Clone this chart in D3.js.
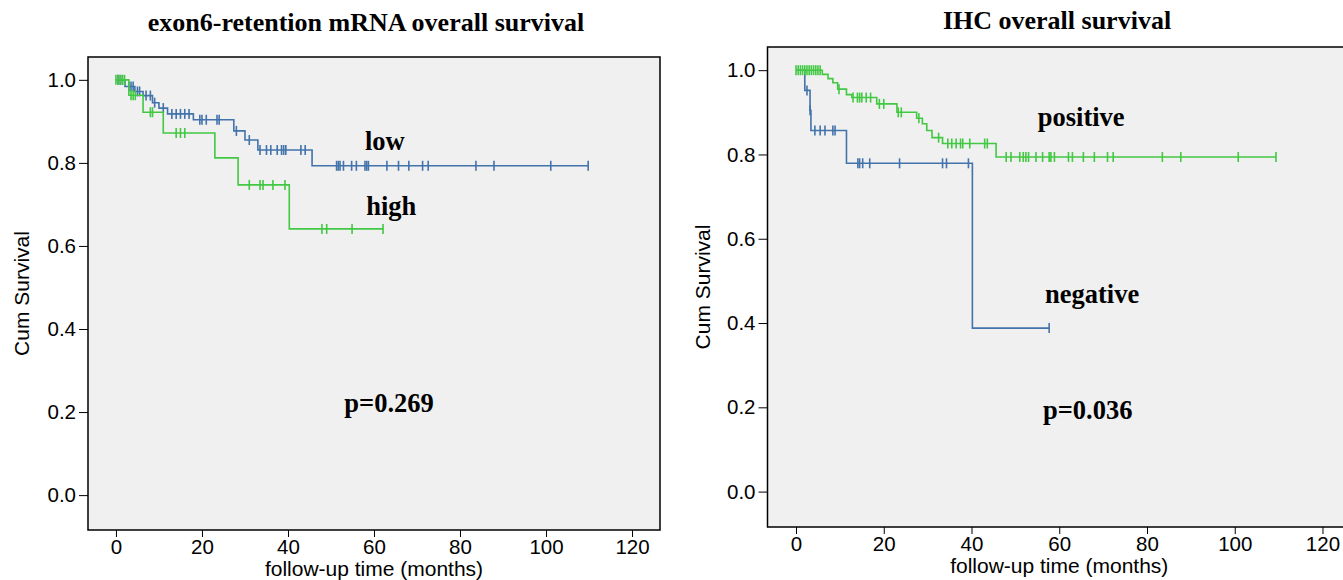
<!DOCTYPE html>
<html lang="en">
<head>
<meta charset="UTF-8">
<title>Overall survival</title>
<style>
    body { margin: 0; background: #fff; overflow: hidden; }
    .axis path, .axis line { fill: none; stroke: #000; stroke-width: 1px; }
    .axis text { font-family: "Liberation Sans", Arial, sans-serif; font-size: 20.5px; fill: #000; }
    .title { font-family: "Liberation Serif", "Times New Roman", serif; font-weight: bold; font-size: 26px; text-anchor: middle; }
    .label { font-family: "Liberation Sans", Arial, sans-serif; font-size: 21px; text-anchor: middle; }
    .note { font-family: "Liberation Serif", "Times New Roman", serif; font-weight: bold; font-size: 26.5px; text-anchor: middle; }
</style>
</head>
<body>
<svg id="chart" width="1343" height="580"></svg>
<script src="https://d3js.org/d3.v7.min.js"></script>
<script>
// ---- data ----
const xTicks = [0, 20, 40, 60, 80, 100, 120];
const yTicks = [0.0, 0.2, 0.4, 0.6, 0.8, 1.0];

// exon6-retention mRNA: [months, cum survival] steps
const lowSteps = [[0, 1.0], [2.1, 0.984], [4.4, 0.972], [6.3, 0.962], [8.5, 0.945], [10, 0.932],
    [12, 0.918], [18, 0.904], [27.4, 0.877], [30, 0.855], [33, 0.831], [45.6, 0.793]];
const lowEnd = 109.8;
const lowCensor = [0.5, 1, 1.5, 3, 3.5, 4, 5, 5.5, 7, 8, 9, 11, 13, 14, 15, 16, 17, 19.5, 20, 21,
    23.5, 24, 28, 31, 33.5, 35, 36, 37.5, 38.5, 39, 39.5, 43, 44, 51.3, 51.7, 52.1, 52.9, 54.8,
    55.9, 57.9, 58.3, 58.7, 63, 65.7, 68.1, 71.3, 72.6, 83.7, 87.9, 101.1, 109.8];

const highSteps = [[0, 1.0], [3, 0.963], [6.3, 0.922], [11, 0.872], [23, 0.812], [28.4, 0.747], [40.3, 0.641]];
const highEnd = 62.1;
const highCensor = [0, 0.5, 1, 1.5, 2, 3.5, 4, 4.5, 8, 8.5, 14, 15, 16, 31, 33.5, 34.2, 36.5, 39.3,
    47.9, 49, 54.9, 62.1];

// IHC
const posSteps = [[0, 1.0], [6, 0.99], [7.3, 0.98], [8.4, 0.97], [9.5, 0.955], [11.5, 0.942], [12.7, 0.935],
    [18.4, 0.92], [23, 0.9], [27.5, 0.886], [28.8, 0.873], [29.8, 0.857], [31, 0.84], [33.4, 0.826], [45.6, 0.794]];
const posEnd = 109.4;
const posCensor = [0, 0.5, 1, 1.5, 2, 2.5, 3, 3.5, 4, 4.5, 5, 5.5, 9.8, 13, 14, 14.5, 15, 16, 17, 19, 20,
    23.3, 24, 28, 32.5, 34.6, 35.5, 36.5, 37.5, 38, 39.6, 43, 43.6, 47.9, 49, 51, 51.8, 52.4, 53, 54.7,
    56.2, 57.7, 58.1, 58.9, 62.1, 63, 65.5, 68, 71, 72.3, 83.5, 87.7, 100.8, 109.4];

const negSteps = [[0, 1.0], [2, 0.952], [3.2, 0.905], [3.4, 0.857], [11.5, 0.779], [40.2, 0.388]];
const negEnd = 57.7;
const negCensor = [2.5, 3.2, 4.3, 5.5, 6.6, 8.4, 8.9, 14.1, 14.5, 15.2, 16.8, 23.6, 33.4, 34.3, 39.3, 57.7];

const BLUE = "#4273ab";
const GREEN = "#42c842";

const svg = d3.select("#chart");

function survAt(steps, t) {
    let s = steps[0][1];
    steps.forEach(d => { if (d[0] <= t) s = d[1]; });
    return s;
}

function drawPanel(cfg) {
    const x = d3.scaleLinear().domain([-6.5, 126.5]).range([cfg.left, cfg.right]);
    const y = d3.scaleLinear().domain([-0.084, 1.055]).range([cfg.bottom, cfg.top]);
    const g = svg.append("g");

    g.append("rect")
        .attr("x", cfg.left).attr("y", cfg.top)
        .attr("width", cfg.right - cfg.left).attr("height", cfg.bottom - cfg.top)
        .attr("fill", "#f0f0f0").attr("stroke", "#000").attr("stroke-width", 1.5);

    g.append("g").attr("class", "axis")
        .attr("transform", `translate(0,${cfg.bottom})`)
        .call(d3.axisBottom(x).tickValues(xTicks).tickSize(7).tickPadding(2).tickSizeOuter(0))
        .call(a => a.select(".domain").remove());

    g.append("g").attr("class", "axis")
        .attr("transform", `translate(${cfg.left},0)`)
        .call(d3.axisLeft(y).tickValues(yTicks).tickFormat(d3.format(".1f")).tickSize(9).tickPadding(3).tickSizeOuter(0))
        .call(a => a.select(".domain").remove());

    const line = d3.line().x(d => x(d[0])).y(d => y(d[1])).curve(d3.curveStepAfter);

    cfg.series.forEach(s => {
        const pts = s.steps.concat([[s.end, s.steps[s.steps.length - 1][1]]]);
        g.append("path").datum(pts)
            .attr("d", line)
            .attr("fill", "none").attr("stroke", s.color).attr("stroke-width", 1.6);
        g.selectAll(null).data(s.censor).join("line")
            .attr("x1", d => x(d)).attr("x2", d => x(d))
            .attr("y1", d => y(survAt(s.steps, d)) - 5)
            .attr("y2", d => y(survAt(s.steps, d)) + 5)
            .attr("stroke", s.color).attr("stroke-width", 1.6);
    });

    g.append("text").attr("class", "title")
        .attr("x", cfg.titleX).attr("y", cfg.titleY).text(cfg.title);
    g.append("text").attr("class", "label")
        .attr("x", x(60)).attr("y", cfg.bottom + cfg.xlabDy).text("follow-up time (months)");
    g.append("text").attr("class", "label")
        .attr("transform", `translate(${cfg.ylabX},${(cfg.top + cfg.bottom) / 2}) rotate(-90)`)
        .text("Cum Survival");

    cfg.notes.forEach(n => {
        g.append("text").attr("class", "note")
            .attr("x", x(n.t)).attr("y", y(n.s)).text(n.text);
    });
}

drawPanel({
    left: 88, right: 660, top: 57, bottom: 530, xlabDy: 46,
    title: "exon6-retention mRNA overall survival", titleX: 366, titleY: 31, ylabX: 29,
    series: [
        { steps: lowSteps, end: lowEnd, censor: lowCensor, color: BLUE },
        { steps: highSteps, end: highEnd, censor: highCensor, color: GREEN }
    ],
    notes: [
        { t: 62.5, s: 0.83, text: "low" },
        { t: 64, s: 0.674, text: "high" },
        { t: 63.5, s: 0.2, text: "p=0.269" }
    ]
});

drawPanel({
    left: 767.5, right: 1351, top: 47, bottom: 527, xlabDy: 46,
    title: "IHC overall survival", titleX: 1057, titleY: 29, ylabX: 710,
    series: [
        { steps: negSteps, end: negEnd, censor: negCensor, color: BLUE },
        { steps: posSteps, end: posEnd, censor: posCensor, color: GREEN }
    ],
    notes: [
        { t: 65, s: 0.868, text: "positive" },
        { t: 67.5, s: 0.447, text: "negative" },
        { t: 66.5, s: 0.172, text: "p=0.036" }
    ]
});
</script>
</body>
</html>
